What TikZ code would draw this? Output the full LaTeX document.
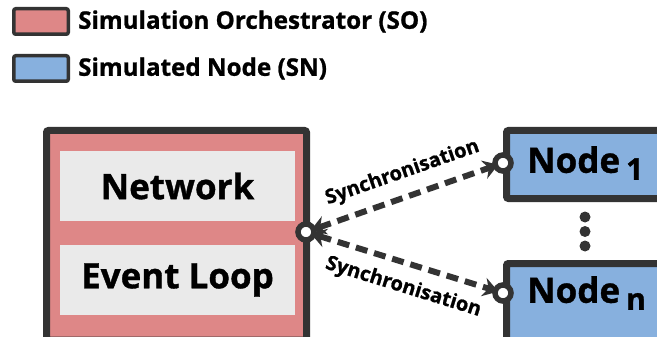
\documentclass[tikz,border=0pt]{standalone}
\usepackage{fontspec}
\setmainfont{Open Sans}[BoldFeatures={FakeBold=1}]
\usetikzlibrary{arrows.meta}

\definecolor{soRed}{RGB}{222,135,135}
\definecolor{snBlue}{RGB}{135,176,222}
\definecolor{edgeGray}{RGB}{51,51,51}
\definecolor{innerGray}{RGB}{234,234,234}

\tikzset{
    legendbox/.style={draw=edgeGray, line width=3.5pt, rounded corners=2pt,
        minimum width=54.5pt, minimum height=25.5pt, inner sep=0pt},
    legendtext/.style={anchor=west, inner sep=0pt, font=\fontsize{24.2}{24.2}\selectfont\bfseries},
    bigbox/.style={draw=edgeGray, line width=7pt, rounded corners=2pt},
    partbox/.style={fill=innerGray, minimum width=235pt, minimum height=70pt, inner sep=0pt,
        font=\fontsize{35}{35}\selectfont\bfseries},
    port/.style={circle, draw=edgeGray, fill=white, line width=5.5pt,
        minimum size=16pt, inner sep=0pt},
    sync/.style={draw=edgeGray, line width=6pt, dash pattern=on 12pt off 7pt,
        shorten <=5pt, shorten >=5pt,
        {Stealth[length=15pt,width=19pt,inset=5pt]}-{Stealth[length=15pt,width=19pt,inset=5pt]}},
    synclabel/.style={sloped, text=black, inner sep=0pt, font=\fontsize{20}{20}\selectfont\bfseries},
    nodetext/.style={anchor=west, inner sep=0pt, font=\fontsize{35}{35}\selectfont\bfseries},
    dot/.style={circle, fill=edgeGray, minimum size=11pt, inner sep=0pt}
}

\begin{document}
\begin{tikzpicture}[x=1pt,y=-1pt]
    \useasboundingbox (0,0) rectangle (657,337);

    % legend
    \node[legendbox, fill=soRed] (solegend) at (41,21.5) {};
    \node[legendtext] (sotext) at (78,21.5) {Simulation Orchestrator (SO)};
    \node[legendbox, fill=snBlue] (snlegend) at (41,68.5) {};
    \node[legendtext] (sntext) at (78,68.5) {Simulated Node (SN)};

    % orchestrator
    \draw[bigbox, fill=soRed] (46.5,130.5) rectangle (306.5,340);
    \node[partbox] (network) at (177.5,186) {Network};
    \node[partbox] (eventloop) at (177.5,280) {Event Loop};

    % simulated nodes
    \draw[bigbox, fill=snBlue] (506.5,130.5) rectangle (680,198.5);
    \draw[bigbox, fill=snBlue] (506.5,263.5) rectangle (680,345);
    \node[nodetext] (nodeone) at (527,163) {Node\hspace{6pt}\raisebox{-7pt}{\fontsize{30}{30}\selectfont 1}};
    \node[nodetext] (nodeN) at (527,293) {Node\hspace{6pt}\raisebox{-7pt}{\fontsize{30}{30}\selectfont n}};

    \node[dot] (dota) at (585,217) {};
    \node[dot] (dotb) at (585,231.5) {};
    \node[dot] (dotc) at (585,246) {};

    % ports
    \node[port] (soport) at (306,232) {};
    \node[port] (oneport) at (503,163) {};
    \node[port] (nport) at (503,293) {};

    % synchronisation
    \draw[sync] (soport.center) -- (oneport.center)
        node[synclabel, pos=0.53, above=11pt] (synctop) {Synchronisation};
    \draw[sync] (soport.center) -- (nport.center)
        node[synclabel, pos=0.53, below=11pt] (syncbot) {Synchronisation};
\end{tikzpicture}
\end{document}
